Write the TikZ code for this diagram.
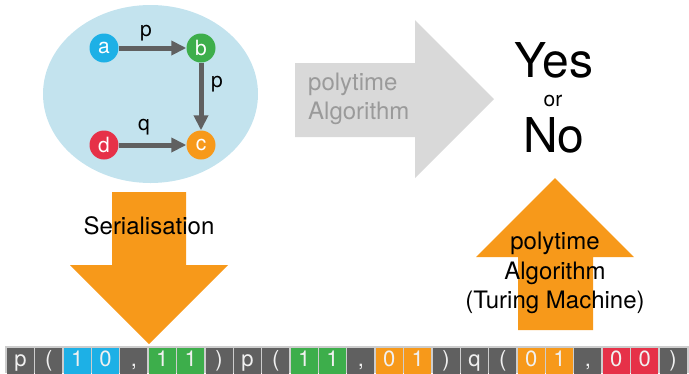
\documentclass[tikz,border=0pt]{standalone}
\usepackage{fontspec}
\setmainfont{TeX Gyre Heros}
\usetikzlibrary{arrows.meta}
\definecolor{ellfill}{HTML}{C3E3EE}
\definecolor{cblue}{HTML}{1DB0E6}
\definecolor{cgreen}{HTML}{3DAE4B}
\definecolor{corange}{HTML}{F7991A}
\definecolor{cred}{HTML}{E63148}
\definecolor{cgray}{HTML}{606060}
\definecolor{lgray}{HTML}{D9D9D9}
\definecolor{tgray}{HTML}{9A9A9A}
\definecolor{sepgray}{HTML}{CDCDCD}
\def\symlp{(}
\def\symrp{)}
\def\symcm{,}
\tikzset{
  vert/.style={circle, inner sep=0pt, minimum size=29pt, text=white, font=\fontsize{21}{22}\selectfont},
  edge/.style={draw=cgray, line width=5pt, -{Triangle[length=15pt,width=14pt]}, shorten >=0pt},
  elab/.style={font=\fontsize{21}{23}\selectfont, text=black},
  cell/.style={minimum width=27pt, minimum height=28pt, inner sep=0pt, text=white!94!black, font=\fontsize{22}{24}\selectfont, anchor=north west},
  bigtxt/.style={font=\fontsize{24}{29.5}\selectfont, align=center}
}
\begin{document}
\begin{tikzpicture}[x=1pt,y=-1pt]
\useasboundingbox (0,0) rectangle (689,373);
% ellipse
\fill[ellfill] (150.5,94) ellipse [x radius=107.5, y radius=89];
% vertices
\node[vert, fill=cblue] (a) at (104,48) {a};
\node[vert, fill=cgreen] (b) at (201,48) {b};
\node[vert, fill=corange] (c) at (201,145) {c};
\node[vert, fill=cred] (d) at (104,145) {d};
\draw[edge] (a) -- (b);
\draw[edge] (b) -- (c);
\draw[edge] (d) -- (c);
\node[elab] (lp1) at (146,33) {p};
\node[elab] (lp2) at (217,84) {p};
\node[elab] (lq) at (144,127) {q};
% gray arrow
\fill[lgray] (295,63) -- (415,63) -- (415,20) -- (494,99) -- (415,178) -- (415,137) -- (295,137) -- cycle;
\node[bigtxt, align=left, text=tgray, anchor=west, inner sep=0pt] (pa) at (308,99) {polytime\\Algorithm};
% yes or no
\node[font=\fontsize{48}{50}\selectfont, inner sep=0pt] (yes) at (554,60) {Yes};
\node[font=\fontsize{21}{22}\selectfont, inner sep=0pt] (or) at (553,101) {or};
\node[font=\fontsize{48}{50}\selectfont, inner sep=0pt] (no) at (554,135) {No};
% down arrow
\fill[corange] (112,192) -- (186,192) -- (186,265) -- (228,265) -- (149,344) -- (70,265) -- (112,265) -- cycle;
\node[bigtxt] (ser) at (149,226) {Serialisation};
% up arrow
\fill[corange] (555,178) -- (634,257) -- (593,257) -- (593,330) -- (518,330) -- (518,257) -- (476,257) -- cycle;
\node[bigtxt] (tm) at (555,273) {polytime\\Algorithm\\(Turing Machine)};
% tape
\fill[sepgray] (5,346) rectangle (689,373);
\foreach \t/\c [count=\i from 0] in {p/cgray,\symlp/cgray,1/cblue,0/cblue,\symcm/cgray,1/cgreen,1/cgreen,\symrp/cgray,p/cgray,\symlp/cgray,1/cgreen,1/cgreen,\symcm/cgray,0/corange,1/corange,\symrp/cgray,q/cgray,\symlp/cgray,0/corange,1/corange,\symcm/cgray,0/cred,0/cred,\symrp/cgray}{
  \node[cell, fill=\c] (t\i) at ({6.7+\i*28.375},347.5) {\strut\t};
}
\end{tikzpicture}
\end{document}
